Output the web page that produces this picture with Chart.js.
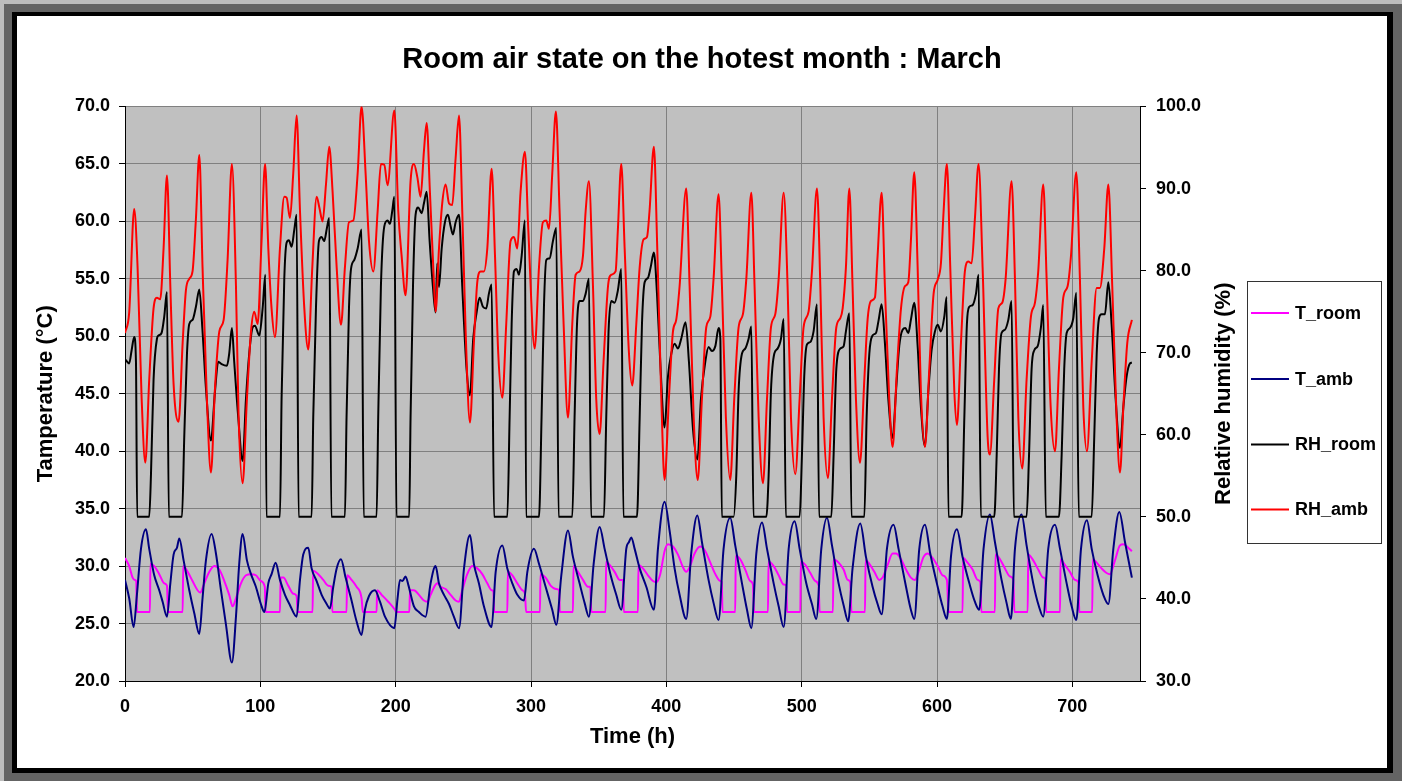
<!DOCTYPE html>
<html>
<head>
<meta charset="utf-8">
<title>Room air state on the hotest month : March</title>
<script src="https://cdn.jsdelivr.net/npm/chart.js@4.4.1/dist/chart.umd.min.js"></script>
<style>
  html, body { margin: 0; padding: 0; }
  body { width: 1402px; height: 781px; background: #646464; position: relative; overflow: hidden; }
  .edge-top { position: absolute; left: 0; top: 0; width: 1402px; height: 4px; background: #bdbdbd; }
  .edge-left { position: absolute; left: 0; top: 0; width: 4px; height: 781px; background: #bdbdbd; }
  .frame { position: absolute; left: 12px; top: 12px; width: 1381px; height: 761px; background: #000; }
  .sheet { position: absolute; left: 17px; top: 16px; width: 1370px; height: 752px; background: #fff; }
  #chart { position: absolute; left: 0; top: 0; }
</style>
</head>
<body>
<div class="edge-top"></div>
<div class="edge-left"></div>
<div class="frame"></div>
<div class="sheet"></div>
<canvas id="chart" width="1402" height="781"></canvas>
<script>
const FONT = "'Liberation Sans', Arial, sans-serif"

const seriesLabels = ['T_room', 'T_amb', 'RH_room', 'RH_amb']

// T_room (°C)
const tRoomHours = [0, 3.1, 5.6, 7.3, 8.3, 8.8, 18.4, 18.8, 21.6, 25.3, 29, 31, 31.8, 42.6, 43, 46.3, 49.9, 53.6, 55.6, 58.6, 62.3, 66, 69.7, 73.4, 77, 79.5, 82, 85.7, 89.4, 93.1, 96.7, 100.4, 103.3, 103.9, 114.5, 115, 117, 120.6, 124.3, 126.8, 127.6, 138.6, 139, 142.8, 146.5, 150.2, 152.7, 153.2, 163.7, 164.1, 167.4, 171.1, 174.8, 175.8, 185.9, 186.3, 189.6, 194.5, 199.5, 200.5, 210.1, 210.6, 213.5, 217.2, 220.9, 223.4, 225.8, 229, 230.7, 233.2, 236.9, 240.6, 244.3, 246.8, 249.2, 252.9, 256.6, 260.3, 264, 267.7, 270.9, 272.2, 272.8, 282.5, 282.9, 286.2, 289.9, 293.6, 295.5, 296.4, 306.6, 307, 310.8, 314.5, 318.5, 320.8, 321.3, 331, 331.4, 334.7, 338.4, 342.1, 343.8, 344.6, 355.1, 355.5, 358.1, 361.8, 365.5, 368, 368.6, 379, 379.4, 382.7, 386.4, 390.1, 392.6, 395.5, 398.7, 401.2, 404.9, 408.6, 412.3, 414.7, 417.2, 420.9, 425, 428.8, 432.5, 436.2, 439.9, 441, 441.5, 450.9, 451.3, 454.6, 458.3, 462, 464, 464.8, 475.1, 475.5, 479.3, 483, 486.7, 488.6, 489.2, 499, 499.4, 502.7, 506.4, 510.1, 512.5, 513.3, 523.1, 523.5, 527.3, 531, 534, 535.9, 536.8, 546.8, 547.2, 550, 553.7, 557.3, 559.8, 563.5, 567.2, 569.7, 573.4, 577.1, 580.7, 583.7, 586.9, 590.1, 593, 596.8, 600.5, 604.1, 607.3, 608.6, 618.9, 619.3, 622.6, 626.3, 630, 632, 632.8, 642.8, 643.2, 646.5, 650.2, 653.9, 656.4, 657.2, 667, 667.4, 671.1, 674.8, 678.5, 680, 680.6, 690.9, 691.3, 694.5, 698.2, 701.9, 704.4, 705.2, 714.7, 715.1, 718, 721.6, 725.3, 727.8, 731.5, 735.2, 737.7, 741.3, 744]
const tRoomValues = [30.7, 30.0, 29.0, 28.8, 28.7, 26.0, 26.0, 30.2, 30.0, 29.3, 28.5, 28.3, 26.0, 26.0, 30.0, 29.5, 28.7, 27.9, 27.7, 28.5, 29.5, 30.0, 29.7, 28.7, 27.5, 26.5, 27.2, 28.5, 29.2, 29.3, 29.2, 28.7, 28.2, 26.0, 26.0, 29.0, 29.0, 28.3, 27.6, 27.4, 26.0, 26.0, 29.6, 29.3, 28.8, 28.3, 28.2, 26.0, 26.0, 29.2, 28.8, 28.2, 27.2, 26.0, 26.0, 27.9, 27.5, 26.9, 26.2, 26.0, 26.0, 27.9, 27.9, 27.5, 27.0, 26.9, 27.5, 28.3, 28.5, 28.2, 28.0, 27.5, 27.0, 26.9, 27.9, 29.3, 30.0, 29.8, 29.3, 28.5, 27.9, 27.8, 26.0, 26.0, 29.5, 29.2, 28.5, 27.9, 27.6, 26.0, 26.0, 29.3, 29.0, 28.3, 28.0, 27.9, 26.0, 26.0, 30.0, 29.5, 28.8, 28.2, 28.2, 26.0, 26.0, 30.4, 30.1, 29.5, 28.8, 28.8, 26.0, 26.0, 30.1, 29.8, 29.2, 28.7, 28.6, 29.3, 31.3, 31.9, 31.7, 31.0, 29.9, 29.5, 29.9, 31.1, 31.7, 31.3, 30.3, 29.3, 28.7, 28.6, 26.0, 26.0, 30.9, 30.6, 29.7, 28.7, 28.4, 26.0, 26.0, 30.4, 30.0, 29.2, 28.4, 28.3, 26.0, 26.0, 30.4, 30.1, 29.4, 28.7, 28.3, 26.0, 26.0, 30.6, 30.3, 29.7, 28.8, 28.6, 26.0, 26.0, 30.5, 30.2, 29.5, 28.8, 29.0, 30.1, 31.1, 31.1, 30.6, 29.7, 29.0, 28.8, 29.7, 30.8, 31.1, 30.7, 30.0, 29.2, 28.8, 26.0, 26.0, 30.7, 30.3, 29.7, 28.8, 28.6, 26.0, 26.0, 31.0, 30.6, 29.8, 29.1, 28.8, 26.0, 26.0, 31.0, 30.5, 29.7, 29.0, 28.9, 26.0, 26.0, 30.6, 30.1, 29.5, 28.8, 28.6, 26.0, 26.0, 30.6, 30.3, 29.8, 29.4, 29.3, 30.5, 31.8, 31.9, 31.6, 31.3]

// T_amb (°C)
const tAmbHours = [0, 3.1, 6.4, 8.8, 11.8, 15.5, 17.9, 21.6, 25.3, 27.8, 31, 33.5, 35.9, 38.4, 40.1, 43.3, 47.5, 51.2, 54.9, 57.3, 59.8, 64, 67.2, 70.9, 74.6, 79, 82, 84.4, 86.9, 90.1, 93.1, 96.7, 100.4, 103, 105.9, 108.3, 111.3, 114.5, 118.2, 121.9, 126.8, 129.3, 131.7, 135.4, 137.9, 141.6, 145.3, 149, 151.4, 153.9, 156.4, 159.6, 163, 167, 171.1, 174.8, 177.3, 180.3, 184.7, 188.4, 192.1, 199, 201.4, 203.2, 205, 207.3, 209.5, 213.5, 217.2, 222.1, 225.8, 229.5, 232, 235.7, 239.4, 243, 246.8, 250.5, 254.9, 257.8, 261.5, 265.2, 270.9, 273.9, 278.8, 282.5, 286.2, 289.9, 294.8, 297.3, 302.2, 305.9, 310.8, 315.7, 318.7, 322.4, 327.3, 331, 335.9, 339.6, 342.8, 346.3, 350.7, 354.4, 359.3, 363, 366.7, 370.4, 372.4, 374.1, 376.6, 380.3, 385.2, 390.8, 393.8, 398.7, 402.4, 406.1, 409.8, 414.7, 418.4, 422.9, 426.3, 431.2, 434.9, 438.6, 442.3, 447.2, 450.9, 455.9, 459.6, 462.8, 466.5, 470.7, 474.4, 479.3, 483, 486.7, 490.4, 494.8, 498.5, 503.4, 507.6, 510.8, 514.5, 518.7, 522.4, 527.3, 531, 534.4, 537.6, 543.3, 547.5, 552.4, 556.1, 559.1, 563, 567.9, 571.6, 577.1, 580.7, 583.2, 586.9, 591.1, 595, 600.5, 604.1, 607.3, 610.3, 614.7, 618.9, 623.9, 628, 631.2, 634.4, 639.1, 642.8, 647.7, 651.4, 654.6, 657.6, 662.5, 666.2, 671.1, 675.3, 678.5, 682.2, 687.2, 690.9, 695.8, 699.5, 702.9, 706.4, 710.8, 714.3, 718.7, 722.9, 726.6, 730.3, 734.7, 738.9, 744]
const tAmbValues = [28.8, 27.2, 24.7, 27.5, 31.5, 33.2, 31.5, 29.2, 27.9, 26.9, 25.6, 28.5, 31.0, 31.6, 32.4, 30.5, 27.9, 25.9, 24.1, 27.2, 30.5, 32.8, 31.1, 27.9, 24.9, 21.6, 25.6, 30.2, 32.8, 30.5, 29.3, 28.2, 26.7, 26.0, 28.5, 29.3, 30.3, 28.8, 27.5, 26.6, 25.6, 28.8, 31.0, 31.6, 29.8, 28.7, 27.5, 26.7, 26.3, 28.2, 29.8, 30.6, 29.0, 27.2, 25.2, 24.0, 26.2, 27.4, 27.9, 26.9, 25.6, 24.6, 27.2, 28.8, 28.7, 29.1, 28.3, 26.5, 26.0, 25.6, 28.5, 30.0, 28.5, 27.5, 26.7, 25.6, 24.6, 29.8, 32.7, 30.2, 28.5, 26.5, 24.7, 29.5, 31.8, 29.8, 28.5, 27.5, 27.0, 29.5, 31.5, 30.2, 28.2, 26.2, 24.9, 29.2, 33.1, 30.8, 28.5, 26.8, 25.6, 30.2, 33.4, 31.5, 29.0, 27.5, 26.2, 31.5, 32.1, 32.5, 31.5, 29.8, 28.2, 26.2, 31.5, 35.6, 33.1, 29.8, 27.5, 25.4, 31.1, 34.4, 32.1, 28.8, 26.8, 25.3, 31.5, 34.2, 31.8, 28.5, 26.2, 24.6, 31.1, 33.8, 31.5, 28.5, 26.5, 24.7, 31.5, 33.9, 31.5, 28.5, 26.7, 25.4, 31.5, 34.2, 31.8, 28.5, 26.6, 25.2, 29.8, 33.7, 30.8, 28.2, 26.7, 25.8, 31.5, 33.6, 31.5, 28.2, 26.2, 25.4, 31.5, 33.6, 31.1, 28.2, 26.5, 25.4, 30.8, 33.2, 30.8, 28.5, 26.9, 26.2, 31.5, 34.5, 32.1, 28.8, 26.8, 25.4, 31.5, 34.5, 31.8, 28.5, 26.5, 25.6, 31.5, 33.6, 31.5, 28.5, 26.5, 25.3, 31.5, 34.0, 31.5, 29.2, 27.5, 26.7, 31.5, 34.7, 32.1, 29.0]

// RH_room (%)
const rhRoomHours = [0, 3.1, 4.9, 6.8, 8.1, 9, 17.9, 19.2, 21.1, 23.6, 24.8, 27, 29, 31, 32.4, 42.1, 43.8, 45.8, 47.5, 49.9, 52.4, 54.9, 57.3, 59.8, 63.5, 66.5, 68.9, 71.4, 75.3, 77, 79, 80.7, 83.7, 86.9, 89.4, 91.8, 94.3, 96, 99.2, 101.7, 103.7, 104.5, 114.5, 115.7, 117.7, 119.4, 121.1, 123.1, 125.1, 126.8, 128.3, 137.9, 139.1, 141.1, 143.3, 145.3, 147.2, 149.2, 150.9, 152.5, 162.5, 163.7, 165.5, 167, 169.4, 171.9, 174.8, 176.4, 185.9, 187.1, 189.1, 191.6, 194, 195.8, 197.5, 199, 200.6, 210, 211, 212.8, 214.7, 216.7, 219.2, 220.9, 222.9, 225.1, 227.5, 229.5, 230.7, 232, 234, 236.4, 238.6, 240.6, 242.3, 244.3, 246.8, 249.2, 252.4, 254.9, 257.3, 259.8, 262, 264.5, 266.9, 268.9, 270.9, 272.7, 282.5, 284.2, 285.7, 287.4, 289.4, 291.1, 293.1, 295.5, 296.4, 305.9, 307.8, 309.6, 311.3, 313.8, 316.2, 318.7, 320.4, 330.5, 332.2, 334, 335.9, 338.4, 340.4, 342.8, 344.4, 353.9, 355.6, 357.3, 359.3, 361.8, 364.2, 366.7, 368.3, 378.3, 380.3, 382, 384, 386.4, 388.4, 390.8, 393.1, 395.5, 398.7, 401.2, 403.7, 406.1, 408.6, 411, 414.2, 416.7, 419.7, 423, 425.6, 428.8, 431.2, 433.7, 436.2, 438.6, 439.9, 441, 449.7, 451.7, 453.4, 455.9, 458.3, 460.8, 462.8, 464.4, 473.9, 475.6, 477.3, 479.8, 482.2, 484.7, 486.7, 488.3, 498.5, 500.2, 502, 503.9, 506.4, 508.8, 511.3, 512.9, 521.9, 523.6, 525.6, 528.5, 531, 532.7, 535.2, 536.8, 546.3, 548, 550, 552.4, 554.9, 556.9, 559.1, 561.5, 564, 567.2, 569.7, 572.1, 574.6, 576.6, 578.8, 580.7, 583.2, 585.7, 588.1, 591.1, 593.6, 596, 598.5, 600.5, 602.9, 605.4, 607.1, 608.5, 618.2, 620.2, 622.1, 623.9, 626.3, 628.8, 630.7, 632.4, 642.3, 644.1, 645.8, 647.7, 650.2, 652.7, 655.1, 656.8, 666.2, 668, 669.9, 671.9, 674.4, 676.8, 678.5, 680.4, 690.1, 692.1, 694, 695.8, 698.2, 700.7, 702.9, 704.8, 714.3, 716.2, 718, 719.7, 721.6, 724.1, 726.6, 729, 732, 735.2, 737.7, 740.1, 742.6, 744]
const rhRoomValues = [69.2, 68.7, 70.3, 71.9, 68.9, 50, 50, 55.2, 66.7, 71.7, 72.1, 72.4, 74.4, 77.4, 50, 50, 59.8, 69.9, 73.5, 74.0, 75.6, 77.7, 72.6, 65.7, 59.3, 65.3, 68.9, 68.6, 68.4, 69.9, 73.0, 68.9, 62.1, 56.8, 64.4, 69.9, 73.1, 73.3, 72.1, 75.4, 79.5, 50, 50, 64.4, 79.0, 83.4, 83.7, 82.9, 85.0, 86.8, 50, 50, 62.1, 75.4, 83.6, 84.1, 83.6, 85.2, 86.4, 50, 50, 62.1, 75.4, 80.2, 81.3, 82.7, 85.0, 50, 50, 62.1, 78.1, 85.4, 86.1, 85.7, 87.3, 89.0, 50, 50, 62.1, 78.1, 86.8, 87.7, 87.0, 88.2, 89.6, 83.6, 78.1, 74.9, 80.9, 78.0, 82.7, 85.9, 86.8, 85.4, 84.4, 85.9, 86.8, 78.1, 68.0, 64.8, 71.7, 74.9, 76.7, 75.6, 75.4, 77.2, 78.3, 50, 50, 62.1, 73.5, 79.9, 80.2, 79.5, 81.8, 86.1, 50, 50, 62.1, 75.8, 81.3, 81.5, 83.6, 85.2, 50, 50, 62.1, 73.5, 76.3, 76.3, 77.2, 79.0, 50, 50, 62.1, 72.6, 76.3, 76.1, 77.6, 80.2, 50, 50, 62.1, 73.5, 78.6, 79.1, 80.4, 82.2, 77.2, 68.9, 60.9, 67.1, 69.9, 71.1, 70.5, 71.7, 73.7, 68.9, 60.7, 57.0, 64.4, 68.9, 70.7, 70.2, 70.8, 73.0, 71.7, 50, 50, 55.1, 65.3, 69.9, 70.5, 71.7, 73.2, 50, 50, 55.1, 65.3, 69.9, 70.5, 71.7, 74.1, 50, 50, 57.5, 67.5, 71.0, 71.3, 72.6, 75.9, 50, 50, 57.5, 68.0, 70.5, 70.8, 72.6, 74.8, 50, 50, 62.1, 69.9, 72.1, 72.4, 74.0, 75.9, 71.2, 64.4, 59.6, 65.3, 70.8, 72.8, 73.0, 72.4, 74.0, 76.1, 70.8, 63.4, 58.6, 65.3, 70.3, 72.6, 73.4, 72.6, 74.4, 76.8, 50, 50, 62.1, 73.5, 75.6, 75.8, 77.2, 79.5, 50, 50, 57.5, 68.0, 72.4, 72.8, 74.0, 76.3, 50, 50, 57.5, 68.0, 70.3, 70.8, 73.1, 75.8, 50, 50, 57.5, 68.0, 72.4, 73.0, 74.2, 77.3, 50, 50, 59.8, 69.9, 74.2, 74.7, 74.7, 78.6, 73.5, 64.4, 58.4, 63.4, 67.1, 68.7, 68.8]

// RH_amb (%)
const rhAmbHours = [0, 3.1, 6.8, 9.3, 12.3, 15, 17.9, 21.1, 23.6, 26, 28.5, 31, 33.5, 35.9, 39.6, 42.6, 45, 47.5, 49.9, 52.4, 54.9, 57.3, 60.5, 63.5, 66.5, 69.7, 72.9, 75.8, 79, 82, 83.9, 86.9, 90.1, 93.1, 95.5, 98, 100.9, 103.5, 105.9, 108.3, 110.8, 114.5, 117.7, 119.4, 121.9, 124.3, 126.8, 129.3, 132.5, 135.4, 138.4, 141.6, 143.6, 146, 148.5, 150.9, 153.4, 156.4, 159.6, 162.5, 165.5, 168.7, 171.9, 174.8, 177.8, 180.3, 183.5, 186.7, 189.1, 191.6, 194, 199, 201.9, 204.4, 207.3, 211, 213.5, 216, 218.4, 220.9, 222.9, 225.3, 227.8, 229.5, 232, 234.4, 236.9, 239.4, 241.8, 244.3, 246.8, 249.2, 251.7, 254.9, 257.8, 260.3, 262.8, 265.2, 267.7, 270.9, 273.4, 275.8, 278.8, 281.7, 284.9, 287.4, 289.9, 292.3, 295.5, 298, 302.7, 305.9, 308.8, 311.3, 313.3, 315.7, 318.4, 321.1, 324.1, 327.3, 330.5, 333, 335.9, 338.4, 340.4, 342.8, 345.8, 348.2, 350.7, 353.6, 356.9, 359.3, 362.5, 364.2, 366.7, 369.2, 372.4, 374.8, 377.8, 380.3, 383.2, 385.7, 387.6, 390.8, 393.3, 396.3, 398.7, 401.9, 404.9, 407.3, 409.8, 414.7, 417.2, 420.2, 423.2, 426.3, 429.5, 432.5, 434.9, 438.6, 441.1, 444, 447.2, 450.2, 453.4, 456.6, 459.1, 462.8, 465.2, 468.2, 471.4, 474.4, 477.3, 480.5, 483, 486.7, 489.6, 492.1, 495.3, 498.5, 501.4, 505.1, 507.6, 511.3, 513.8, 516.2, 519.4, 522.4, 525.6, 528.5, 530.3, 532.7, 535.2, 537.6, 540.1, 543.1, 546.3, 548.7, 551.2, 554.1, 556.1, 559.1, 561.5, 564.7, 567.2, 570.4, 573.4, 576.3, 578.8, 580.7, 583.2, 585.7, 588.1, 591.1, 594.3, 597.5, 600.5, 602.9, 604.9, 607.3, 609.8, 612.8, 614.7, 617.7, 620.6, 623.1, 625.6, 628, 630.7, 633.7, 637.4, 639.1, 642.3, 645.3, 648.2, 650.7, 655.1, 657.6, 660.1, 663, 666.2, 669.4, 672.4, 674.8, 678.5, 681, 684, 687.2, 690.1, 693.3, 696.5, 699, 702.9, 705.6, 708.1, 710.8, 714.3, 718, 720.4, 723.6, 726.6, 729.5, 732.7, 735.2, 737.7, 740.6, 744]
const rhAmbValues = [72.4, 74.9, 87.5, 80.4, 64.4, 56.6, 66.7, 75.4, 76.7, 76.5, 82.7, 91.6, 78.1, 66.2, 61.6, 71.2, 77.6, 79.0, 79.9, 86.3, 94.1, 80.4, 64.4, 55.4, 65.7, 72.6, 74.0, 81.3, 93.0, 78.1, 62.5, 54.1, 64.4, 72.6, 75.0, 73.5, 83.6, 93.0, 82.7, 75.4, 71.9, 82.7, 89.0, 88.9, 86.4, 91.8, 98.9, 87.3, 75.4, 70.4, 80.4, 89.0, 87.7, 86.0, 90.5, 95.1, 89.6, 80.4, 73.4, 80.4, 85.9, 86.1, 91.8, 100.0, 91.8, 83.6, 79.9, 87.3, 93.0, 92.9, 90.4, 99.5, 87.3, 81.8, 77.0, 90.9, 93.0, 91.4, 89.0, 94.6, 98.0, 89.6, 80.4, 75.0, 82.7, 88.2, 90.5, 88.2, 88.0, 93.7, 98.9, 87.3, 72.6, 61.5, 71.2, 78.6, 79.9, 79.9, 82.7, 92.4, 81.8, 69.9, 64.5, 73.5, 83.6, 84.1, 82.7, 89.6, 94.5, 85.0, 70.5, 80.4, 85.9, 86.1, 85.1, 91.8, 99.4, 87.3, 73.5, 62.1, 73.5, 79.5, 79.9, 81.8, 87.3, 90.9, 78.1, 64.4, 60.1, 68.9, 78.1, 79.5, 79.9, 85.0, 93.0, 82.7, 69.9, 66.0, 73.5, 80.4, 83.8, 84.1, 87.3, 95.1, 82.7, 64.4, 54.5, 64.4, 72.6, 74.0, 78.1, 90.0, 78.1, 62.1, 54.5, 64.4, 73.1, 74.4, 79.0, 89.3, 78.1, 62.1, 54.5, 64.4, 73.1, 74.7, 79.0, 89.5, 78.1, 62.1, 54.1, 64.4, 73.1, 74.7, 79.0, 89.5, 78.1, 62.1, 55.2, 64.4, 73.1, 75.0, 79.9, 90.0, 78.1, 62.1, 54.7, 64.4, 73.1, 74.2, 75.4, 80.4, 90.0, 78.1, 64.4, 56.6, 66.7, 74.0, 76.3, 76.7, 81.8, 89.5, 78.1, 64.4, 58.5, 68.0, 75.4, 78.1, 78.6, 83.6, 92.0, 80.4, 65.3, 58.5, 68.0, 77.2, 78.9, 80.9, 87.3, 93.0, 80.4, 65.3, 61.2, 71.2, 79.9, 81.1, 80.9, 86.3, 93.0, 80.4, 59.8, 57.6, 66.7, 75.4, 76.1, 79.0, 90.9, 79.0, 62.1, 55.9, 66.7, 74.4, 76.1, 79.9, 90.5, 79.0, 63.4, 58.0, 68.0, 76.7, 78.1, 81.8, 92.0, 79.0, 63.4, 58.0, 68.9, 77.9, 77.9, 82.7, 90.5, 78.1, 62.1, 55.4, 63.4, 71.2, 74.0]

const toPoints = (hours, values) => hours.map((h, i) => ({ x: h, y: values[i] }))

const lineStyle = (label, color, points, axis, order) => ({
  label,
  data: points,
  borderColor: color,
  backgroundColor: color,
  borderWidth: 2,
  pointRadius: 0,
  fill: false,
  cubicInterpolationMode: 'monotone',
  yAxisID: axis,
  order,
})

// plot area fill, drawn under grid and lines
const plotBackground = {
  id: 'plotBackground',
  beforeDraw(chart) {
    const { ctx, chartArea: a } = chart
    ctx.save()
    ctx.fillStyle = '#c0c0c0'
    ctx.fillRect(a.left, a.top, a.right - a.left, a.bottom - a.top)
    ctx.restore()
  },
}

// right axis title reads bottom-to-top like the left one, and the boxed legend
const sideTexts = {
  id: 'sideTexts',
  afterDraw(chart) {
    const { ctx, chartArea: a } = chart
    ctx.save()
    ctx.fillStyle = '#000'
    ctx.font = `bold 22px ${FONT}`
    ctx.textAlign = 'center'
    ctx.textBaseline = 'middle'
    ctx.translate(1224, (a.top + a.bottom) / 2)
    ctx.rotate(-Math.PI / 2)
    ctx.fillText('Relative humidity (%)', 0, 0)
    ctx.restore()

    ctx.save()
    ctx.fillStyle = '#fff'
    ctx.fillRect(1247, 281, 134, 262)
    ctx.strokeStyle = '#333'
    ctx.lineWidth = 1
    ctx.strokeRect(1247.5, 281.5, 134, 262)
    const rows = [313, 379, 444.5, 509.5]
    ctx.font = `bold 18px ${FONT}`
    ctx.textAlign = 'left'
    ctx.textBaseline = 'middle'
    chart.data.datasets.forEach((ds, i) => {
      ctx.strokeStyle = ds.borderColor
      ctx.lineWidth = 2
      ctx.beginPath()
      ctx.moveTo(1251, rows[i])
      ctx.lineTo(1289, rows[i])
      ctx.stroke()
      ctx.fillStyle = '#000'
      ctx.fillText(ds.label, 1295, rows[i] + 1)
    })
    ctx.restore()
  },
}

const tickFont = { family: FONT, size: 18, weight: 'bold' }
const titleFont = { family: FONT, size: 22, weight: 'bold' }

new Chart(document.getElementById('chart'), {
  type: 'line',
  data: {
    datasets: [
      lineStyle(seriesLabels[0], '#ff00ff', toPoints(tRoomHours, tRoomValues), 'y', 3),
      lineStyle(seriesLabels[1], '#000080', toPoints(tAmbHours, tAmbValues), 'y', 2),
      lineStyle(seriesLabels[2], '#000000', toPoints(rhRoomHours, rhRoomValues), 'y1', 1),
      lineStyle(seriesLabels[3], '#ff0000', toPoints(rhAmbHours, rhAmbValues), 'y1', 0),
    ],
  },
  options: {
    responsive: false,
    animation: false,
    events: [],
    layout: { padding: { left: 20, right: 18, top: 0, bottom: 0 } },
    scales: {
      x: {
        type: 'linear',
        position: 'bottom',
        min: 0,
        max: 750,
        ticks: {
          stepSize: 100,
          includeBounds: false,
          color: '#000',
          font: tickFont,
          padding: 9,
          maxRotation: 0,
        },
        grid: { color: '#808080', tickColor: '#000', tickLength: 6 },
        border: { color: '#000', width: 1 },
        title: { display: true, text: 'Time (h)', color: '#000', font: titleFont, padding: { top: 0, bottom: 31 } },
        afterFit(scale) { scale.height = 100 },
      },
      y: {
        position: 'left',
        min: 20,
        max: 70,
        ticks: {
          stepSize: 5,
          color: '#000',
          font: tickFont,
          padding: 9,
          callback: (v) => v.toFixed(1),
        },
        grid: { color: '#808080', tickColor: '#000', tickLength: 6 },
        border: { color: '#000', width: 1 },
        title: { display: true, text: 'Tamperature (°C)', color: '#000', font: titleFont, padding: { top: 13, bottom: 0 } },
        afterFit(scale) { scale.width = 105 },
      },
      y1: {
        position: 'right',
        min: 30,
        max: 100,
        ticks: {
          stepSize: 10,
          color: '#000',
          font: tickFont,
          padding: 10,
          callback: (v) => v.toFixed(1),
        },
        grid: { drawOnChartArea: false, tickColor: '#000', tickLength: 6 },
        border: { color: '#000', width: 1 },
        afterFit(scale) { scale.width = 244 },
      },
    },
    plugins: {
      legend: { display: false },
      tooltip: { enabled: false },
      title: {
        display: true,
        text: 'Room air state on the hotest month : March',
        color: '#000',
        font: { family: FONT, size: 29, weight: 'bold' },
        padding: { top: 42.6, bottom: 29.1 },
      },
    },
  },
  plugins: [plotBackground, sideTexts],
})
</script>
</body>
</html>
